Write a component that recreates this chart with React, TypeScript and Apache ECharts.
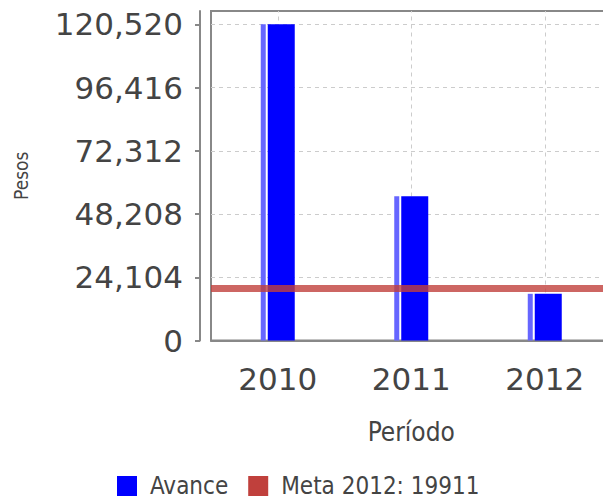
import React, { useEffect, useRef } from "react";
import * as echarts from "echarts";

const categories = ["2010", "2011", "2012"];
const avance = [120520, 55000, 17800];
const metaValue = 19911;
const yTicks = [0, 24104, 48208, 72312, 96416, 120520];
const yMax = 125600;
const yStep = 24104;

const LABEL_FONT = "'DejaVu Sans', sans-serif";
const NARROW_FONT = "'DejaVu Sans Condensed', 'Liberation Sans Narrow', 'DejaVu Sans', sans-serif";

export default function App() {
  const ref = useRef<HTMLDivElement>(null);
  useEffect(() => {
    if (!ref.current) return;
    const chart = echarts.init(ref.current, null, { renderer: "svg" });
    chart.setOption({
      animation: false,
      backgroundColor: "#ffffff",
      grid: {
        left: 211,
        top: 11,
        width: 400.5,
        height: 329.5,
        show: true,
        borderColor: "#888888",
        borderWidth: 2,
        backgroundColor: "transparent",
      },
      legend: {
        left: 117,
        top: 474,
        icon: "rect",
        itemWidth: 20,
        itemHeight: 20,
        itemGap: 20,
        padding: 0,
        data: ["Avance", "Meta 2012: 19911"],
        textStyle: {
          fontFamily: NARROW_FONT,
          fontSize: 24,
          lineHeight: 20,
          color: "#444444",
          padding: [0, 0, 0, 8],
        },
      },
      xAxis: {
        type: "category",
        data: categories,
        offset: 10,
        name: "Período",
        nameLocation: "middle",
        nameGap: 68,
        nameTextStyle: { fontFamily: NARROW_FONT, fontSize: 26, color: "#444444" },
        axisLine: { show: true, lineStyle: { color: "#888888", width: 2 } },
        axisTick: { show: false },
        axisLabel: { fontFamily: LABEL_FONT, fontSize: 31, color: "#444444", margin: 13 },
        splitLine: { show: false },
      },
      yAxis: {
        type: "value",
        min: 0,
        max: yMax,
        interval: yStep,
        offset: 11,
        name: "Pesos",
        nameLocation: "middle",
        nameRotate: 90,
        nameGap: 170,
        nameTextStyle: { fontFamily: NARROW_FONT, fontSize: 19, color: "#444444" },
        axisLine: { show: true, lineStyle: { color: "#888888", width: 2 } },
        axisTick: {
          show: true,
          length: 5,
          lineStyle: { color: "#888888", width: 2 },
          customValues: yTicks,
        },
        axisLabel: {
          fontFamily: LABEL_FONT,
          fontSize: 31,
          color: "#444444",
          margin: 17,
          customValues: yTicks,
          formatter: (v: number) => (yTicks.indexOf(v) >= 0 ? v.toLocaleString("en-US") : ""),
        },
        splitLine: { show: true, lineStyle: { color: "#cccccc", width: 1, type: [4, 4] } },
      },
      series: [
        {
          name: "gridV",
          type: "line",
          data: [],
          z: 0,
          silent: true,
          markLine: {
            silent: true,
            z: 0,
            symbol: "none",
            label: { show: false },
            lineStyle: { color: "#cccccc", width: 1, type: [4, 4] },
            data: categories.map((c) => ({ xAxis: c })),
          },
        },
        {
          name: "AvanceEdge",
          type: "bar",
          data: avance,
          barWidth: 5,
          barGap: "40%",
          z: 3,
          itemStyle: { color: "#6666ff" },
        },
        {
          name: "Avance",
          type: "bar",
          data: avance,
          barWidth: 27,
          barGap: "40%",
          z: 3,
          itemStyle: { color: "#0000ff" },
        },
        {
          name: "Meta 2012: 19911",
          type: "line",
          data: [],
          z: 5,
          itemStyle: { color: "#c0403c" },
          lineStyle: { color: "#c0403c" },
          markLine: {
            silent: true,
            z: 6,
            symbol: "none",
            label: { show: false },
            lineStyle: { color: "rgba(192,64,60,0.8)", width: 7, type: "solid" },
            data: [{ yAxis: metaValue }],
          },
        },
      ],
    });
    return () => chart.dispose();
  }, []);
  return (
    <div style={{ position: "fixed", left: 0, top: 0, width: 603, height: 501, overflow: "hidden", background: "#fff" }}>
      <div ref={ref} style={{ width: 620, height: 501 }} />
    </div>
  );
}
